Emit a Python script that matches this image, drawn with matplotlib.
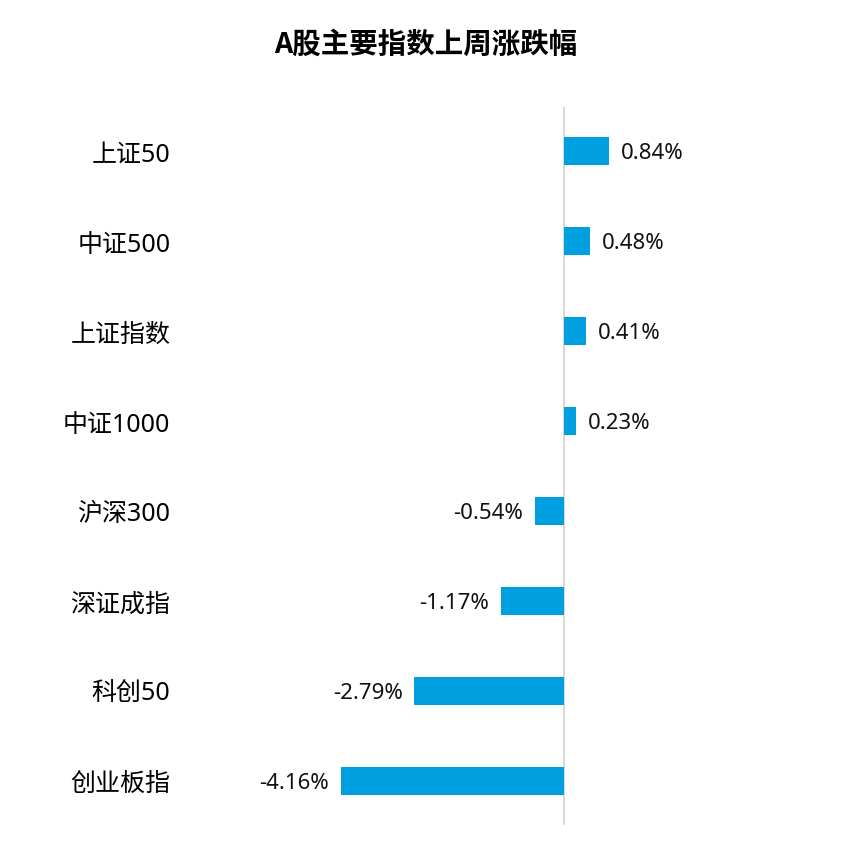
import matplotlib.pyplot as plt

plt.rcParams['font.family'] = ['Noto Sans', 'Noto Sans CJK SC', 'DejaVu Sans']

names = ['上证50', '中证500', '上证指数', '中证1000', '沪深300', '深证成指', '科创50', '创业板指']
changes = [0.84, 0.48, 0.41, 0.23, -0.54, -1.17, -2.79, -4.16]

W = 853
fig = plt.figure(figsize=(8.53, 8.53), dpi=100)
# axes spans x 180..800 px, y 108..826 px
ax = fig.add_axes([180 / W, 1 - 826 / W, 620 / W, 718 / W])

ypos = list(range(len(names)))
ax.barh(ypos, changes, height=0.31, color='#00A0E0', zorder=2)
ax.axvline(0, color='#d9d9d9', lw=1.5, zorder=1)

ax.set_xlim(-384 / 53.6, 236 / 53.6)
ax.set_ylim(len(names) - 0.51, -0.49)
ax.set_yticks(ypos)
ax.set_yticklabels(names, fontsize=18)
ax.tick_params(axis='y', length=0, pad=7)
ax.set_xticks([])
for s in ax.spines.values():
    s.set_visible(False)

for y, v in zip(ypos, changes):
    off = 0.22 if v > 0 else -0.22
    ax.text(v + off, y + 0.02, f'{v:.2f}%', va='center',
            ha='left' if v > 0 else 'right', fontsize=16, color='#111111')

fig.suptitle('A股主要指数上周涨跌幅', x=426 / W, y=1 - 31 / W, fontsize=20.5,
             fontweight='bold', va='top', family=['Noto Sans CJK SC', 'DejaVu Sans'])

fig.savefig('out.png', dpi=100)
